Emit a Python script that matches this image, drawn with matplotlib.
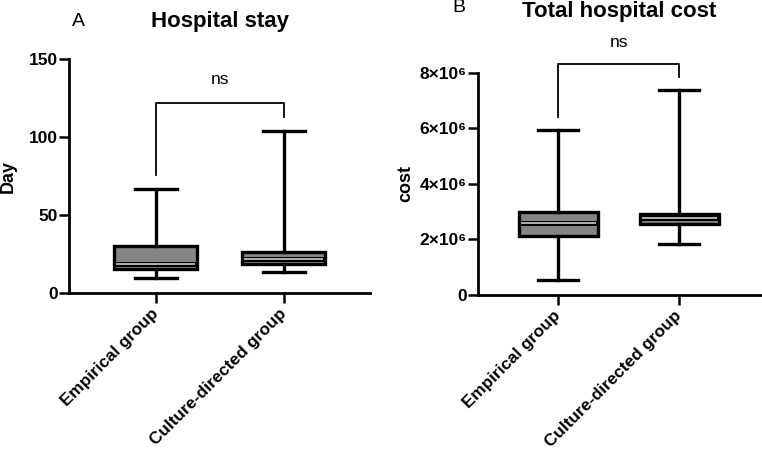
import matplotlib
matplotlib.use("Agg")
import matplotlib.pyplot as plt
from matplotlib.ticker import FuncFormatter

plt.rcParams['font.family'] = ['Liberation Sans', 'DejaVu Sans']

groups = ["Empirical group", "Culture-directed group"]

# Hospital stay (days): whislo, q1, median, q3, whishi
stay_min = [10, 13.4]
stay_q1 = [15.8, 18.6]
stay_med = [18.8, 21.8]
stay_q3 = [30.1, 26.6]
stay_max = [67, 104.2]
stay_bracket = [121.8, 76, 113]  # top, left leg end, right leg end

# Total hospital cost
cost_min = [0.53e6, 1.82e6]
cost_q1 = [2.13e6, 2.56e6]
cost_med = [2.58e6, 2.78e6]
cost_q3 = [2.99e6, 2.93e6]
cost_max = [5.94e6, 7.37e6]
cost_bracket = [8.30e6, 6.42e6, 7.83e6]

fig = plt.figure(figsize=(7.62, 4.53), dpi=100)
ax1 = fig.add_axes([0.0906, 0.3525, 0.395, 0.5166])
ax2 = fig.add_axes([0.6269, 0.3488, 0.3727, 0.4907])

def draw(ax, mins, q1, med, q3, maxs, bracket, ylim, yticks, xlim, fmt, ylabel, lpad):
    stats = []
    for i in range(len(groups)):
        stats.append(dict(whislo=mins[i], q1=q1[i], med=med[i], q3=q3[i], whishi=maxs[i], label=groups[i]))
    ax.bxp(stats, positions=[0, 1], widths=0.65, showfliers=False, patch_artist=True,
           boxprops=dict(facecolor='#858585', edgecolor='black', linewidth=2.4),
           whiskerprops=dict(color='black', linewidth=2.4),
           capprops=dict(color='black', linewidth=2.4),
           capwidths=0.33,
           medianprops=dict(color='black', linewidth=3.6, solid_capstyle='butt'))
    # light inner median line
    for i in range(len(groups)):
        ax.plot([i - 0.31, i + 0.31], [med[i], med[i]], color='#c0c0c0', lw=1.3, zorder=5,
                solid_capstyle='butt')
    ax.set_xlim(*xlim)
    ax.set_ylim(*ylim)
    ax.set_yticks(yticks)
    ax.yaxis.set_major_formatter(FuncFormatter(fmt))
    ax.set_xticks([0, 1])
    ax.set_xticklabels(groups, rotation=45, ha='right', va='center', rotation_mode='anchor',
                       fontsize=12.3, fontweight='bold')
    for lab in ax.get_yticklabels():
        lab.set_fontweight('bold')
        lab.set_fontsize(12.5)
    ax.spines['top'].set_visible(False)
    ax.spines['right'].set_visible(False)
    for s in ['left', 'bottom']:
        ax.spines[s].set_linewidth(2)
    ax.tick_params(axis='both', length=7, width=1.8, pad=1)
    ax.tick_params(axis='x', pad=6)
    ax.set_ylabel(ylabel, fontsize=13, fontweight='bold', labelpad=lpad)
    # significance bracket
    top, l_end, r_end = bracket
    ax.plot([0, 0, 1, 1], [l_end, top, top, r_end], color='black', lw=1.3, clip_on=False)
    ax.text(0.5, top + (ylim[1] - ylim[0]) * 0.1, "ns", ha='center', va='center', fontsize=12.5)

def fmt_stay(v, p):
    return f"{int(v)}"

sup = str.maketrans("0123456789", "⁰¹²³⁴⁵⁶⁷⁸⁹")
def fmt_cost(v, p):
    if v == 0:
        return "0"
    return f"{int(round(v / 1e6))}×10" + "6".translate(sup)

draw(ax1, stay_min, stay_q1, stay_med, stay_q3, stay_max, stay_bracket,
     (0, 150), [0, 50, 100, 150], (-0.677, 1.674), fmt_stay, "Day", 9)
draw(ax2, cost_min, cost_q1, cost_med, cost_q3, cost_max, cost_bracket,
     (0, 8e6), [0, 2e6, 4e6, 6e6, 8e6], (-0.666, 1.681), fmt_cost, "cost", 4)

fig.text(219.7 / 762, 1 - 22 / 453, "Hospital stay", ha='center', va='center', fontsize=16, fontweight='bold')
fig.text(619.5 / 762, 1 - 11 / 453, "Total hospital cost", ha='center', va='center', fontsize=16, fontweight='bold')
fig.text(78 / 762, 1 - 22 / 453, "A", ha='center', va='center', fontsize=14)
fig.text(459 / 762, 1 - 8 / 453, "B", ha='center', va='center', fontsize=14)

fig.savefig("out.png", dpi=100)
